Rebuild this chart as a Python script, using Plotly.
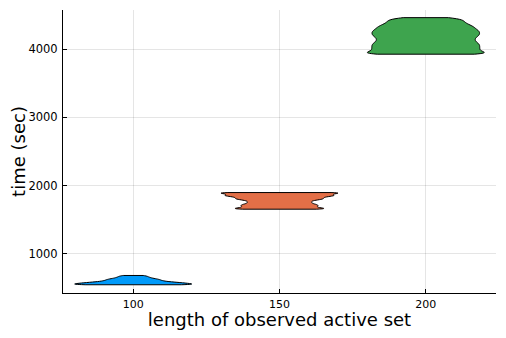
import plotly.graph_objects as go

# Observed active-set lengths (x positions of the violins)
active_set_lengths = [100, 150, 200]

# Estimated run-time samples (seconds) for each active-set length
times_100 = [546, 546, 546, 547, 549, 552, 555, 558, 561, 564, 567, 570, 573, 576,
             579, 583, 587, 592, 597, 602, 608, 614, 620, 626, 632, 640, 649, 659,
             670, 682]
times_150 = [1654, 1655, 1657, 1661, 1666, 1672, 1678, 1684, 1690, 1696, 1702, 1708,
             1713, 1719, 1725, 1731, 1738, 1745, 1752, 1759, 1766, 1773, 1780, 1787,
             1793, 1798, 1803, 1808, 1813, 1818, 1823, 1828, 1834, 1839, 1843, 1847,
             1851, 1855, 1859, 1863, 1867, 1871, 1875, 1880, 1885, 1890, 1894, 1897,
             1898, 1898, 1898]
times_200 = [3927, 3927, 3928, 3937, 3947, 3957, 3967, 3977, 3987, 3997, 4007, 4017,
             4027, 4037, 4047, 4057, 4067, 4077, 4087, 4097, 4108, 4119, 4130, 4141,
             4152, 4163, 4174, 4185, 4195, 4205, 4215, 4225, 4235, 4245, 4255, 4265,
             4275, 4285, 4296, 4307, 4318, 4329, 4340, 4352, 4364, 4377, 4391, 4405,
             4419, 4433, 4448, 4463]

x_ticks = [100, 150, 200]
y_ticks = [1000, 2000, 3000, 4000]

colors = ["#009AFA", "#E36F47", "#3EA44E"]
bandwidths = [11, 12, 25]

fig = go.Figure()
for pos, times, color, bw in zip(active_set_lengths, [times_100, times_150, times_200],
                                 colors, bandwidths):
    fig.add_trace(go.Violin(
        x=[pos] * len(times), y=times, width=40, spanmode="hard", bandwidth=bw,
        points=False, fillcolor=color, line=dict(color="black", width=1),
        box_visible=False, meanline_visible=False, showlegend=False,
        hoverinfo="skip",
    ))

fig.update_layout(
    width=490, height=322,
    margin=dict(l=55, r=2, t=2, b=37),
    plot_bgcolor="white", paper_bgcolor="white",
    violinmode="overlay",
    font=dict(family="DejaVu Sans", color="black"),
)
fig.update_xaxes(
    range=[76, 224], tickvals=x_ticks, ticks="inside", ticklen=4, tickcolor="black",
    showline=True, linecolor="black", linewidth=1, mirror=False,
    showgrid=True, gridcolor="rgba(0,0,0,0.1)", gridwidth=0.5, zeroline=False,
    tickfont=dict(size=11), ticklabelstandoff=1,
    title=dict(text="length of observed active set", font=dict(size=18), standoff=5),
    automargin=False,
)
fig.update_yaxes(
    range=[425, 4575], tickvals=y_ticks, ticks="inside", ticklen=4, tickcolor="black",
    showline=True, linecolor="black", linewidth=1, mirror=False,
    showgrid=True, gridcolor="rgba(0,0,0,0.1)", gridwidth=0.5, zeroline=False,
    tickfont=dict(size=11.5), ticklabelstandoff=2,
    title=dict(text="time (sec)", font=dict(size=18), standoff=0),
    automargin=False,
)

fig.write_html("out.html")
